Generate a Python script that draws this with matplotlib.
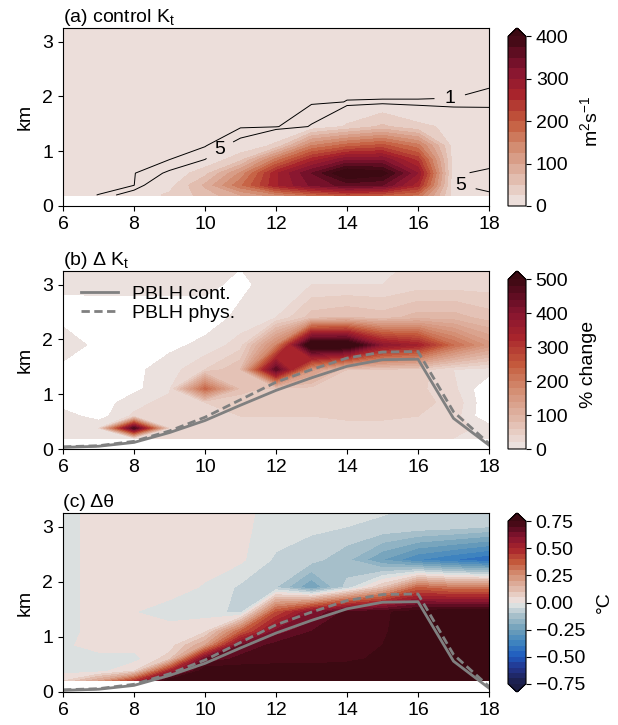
import matplotlib
matplotlib.use('Agg')
import matplotlib.pyplot as plt
import numpy as np
from matplotlib.colors import LinearSegmentedColormap

plt.rcParams['font.family'] = ['Liberation Sans', 'DejaVu Sans']
plt.rcParams['mathtext.fontset'] = 'custom'
plt.rcParams['mathtext.rm'] = 'Liberation Sans'
plt.rcParams['mathtext.it'] = 'Liberation Sans:italic'
plt.rcParams['font.size'] = 14

# Data: hourly columns (local time), model levels (km)
hours = [6, 7, 8, 9, 10, 11, 12, 13, 14, 15, 16, 17, 18]
heights = [0.2, 0.38, 0.6, 0.85, 1.1, 1.45, 1.9, 2.4, 3.0, 3.6]

# (a) control eddy diffusivity, m2/s  (rows = heights, cols = hours)
kt_control = [
    [0.1, 1.05, 9, 30, 60, 100, 140, 180, 210, 200, 170, 10, 6],
    [0.0, 0.3, 0.9, 15, 80, 170, 270, 330, 360, 350, 260, 5.5, 3],
    [0.0, 0.2, 0.8, 6, 40, 130, 270, 350, 435, 415, 300, 6, 3.5],
    [0.0, 0.1, 0.5, 0.95, 5, 40, 160, 260, 320, 320, 240, 10, 8],
    [0.0, 0.0, 0.2, 0.5, 0.7, 8, 30, 150, 190, 210, 160, 12, 12],
    [0.0, 0.0, 0.0, 0.3, 0.4, 0.5, 0.6, 5.5, 28, 55, 30, 20, 17],
    [0.0, 0.0, 0.0, 0.0, 0.1, 0.2, 0.3, 0.5, 1.05, 1.08, 1.08, 1.1, 1.6],
    [0.0, 0.0, 0.0, 0.0, 0.0, 0.0, 0.0, 0.1, 0.3, 0.3, 0.3, 0.4, 0.4],
    [0.0, 0.0, 0.0, 0.0, 0.0, 0.0, 0.0, 0.0, 0.0, 0.0, 0.0, 0.0, 0.0],
    [0.0, 0.0, 0.0, 0.0, 0.0, 0.0, 0.0, 0.0, 0.0, 0.0, 0.0, 0.0, 0.0],
]

# (b) change in Kt, %
kt_change = [
    [10, 12, 20, 25, 30, 30, 30, 30, 30, 25, 25, 20, 10],
    [15, 20, 480, 30, 25, 25, 25, 25, 30, 30, 30, 30, 10],
    [10, -10, 25, 30, 40, 40, 40, 40, 45, 45, 40, 30, -20],
    [-10, -10, 10, 30, 40, 45, 50, 50, 50, 50, 45, 35, -20],
    [-10, -10, -5, 15, 230, 70, 50, 50, 50, 50, 45, 25, -20],
    [-5, -5, -5, 10, 40, 80, 460, 150, 60, 55, 50, 20, 10],
    [10, -5, -5, -5, 5, 30, 180, 560, 560, 380, 340, 220, 150],
    [-5, -10, -10, -10, -10, 5, 20, 70, 80, 70, 90, 90, 70],
    [2, 5, 5, 5, 5, -5, 10, 20, 20, 20, 30, 30, 30],
    [10, 10, 10, 10, 10, 5, 10, 10, 10, 10, 20, 20, 20],
]

# (c) change in potential temperature, degC
theta_change = [
    [0.05, 0.2, 0.45, 0.8, 0.9, 0.9, 0.9, 0.9, 0.9, 0.9, 0.9, 0.9, 0.9],
    [-0.02, -0.02, 0.05, 0.5, 0.8, 0.78, 0.78, 0.78, 0.78, 0.8, 0.9, 0.9, 0.9],
    [-0.02, -0.02, -0.02, 0.08, 0.65, 0.72, 0.73, 0.73, 0.74, 0.76, 0.85, 0.9, 0.85],
    [-0.01, 0.02, 0.02, 0.02, 0.2, 0.65, 0.72, 0.73, 0.74, 0.75, 0.85, 0.9, 0.8],
    [-0.02, 0.02, 0.02, 0.02, 0.04, 0.35, 0.62, 0.7, 0.72, 0.74, 0.8, 0.85, 0.78],
    [-0.02, 0.02, 0.001, -0.02, -0.02, -0.07, 0.4, 0.6, 0.72, 0.74, 0.78, 0.8, 0.8],
    [-0.02, 0.02, 0.02, 0.02, -0.005, -0.06, -0.1, -0.25, -0.08, 0.1, 0.35, 0.3, 0.3],
    [-0.02, 0.02, 0.02, 0.02, 0.02, 0.01, -0.06, -0.08, -0.14, -0.25, -0.35, -0.4, -0.45],
    [-0.02, 0.02, 0.02, 0.02, 0.02, 0.01, -0.02, -0.04, -0.05, -0.06, -0.07, -0.08, -0.1],
    [-0.02, 0.02, 0.02, 0.02, 0.02, 0.01, -0.01, -0.02, -0.02, -0.03, -0.04, -0.05, -0.06],
]

# boundary layer heights, km
pblh_cont = [0.03, 0.05, 0.12, 0.3, 0.52, 0.8, 1.07, 1.3, 1.51, 1.63, 1.64, 0.56, 0.07]
pblh_phys = [0.04, 0.06, 0.14, 0.33, 0.58, 0.9, 1.22, 1.45, 1.66, 1.77, 1.78, 0.68, 0.1]

# balance-like diverging colormap
div_colors = [
    (0.00, '#1b1d45'), (0.10, '#23358f'), (0.17, '#1f5cbf'), (0.25, '#3d83bf'),
    (0.33, '#6b9db9'), (0.42, '#a9c1cb'), (0.48, '#d9dfe0'), (0.50, '#ebe6e4'),
    (0.52, '#ecdcd7'), (0.58, '#e2bcae'), (0.67, '#d48f74'), (0.75, '#c45a3c'),
    (0.83, '#a8242c'), (0.90, '#861530'), (0.96, '#5a0c20'), (1.00, '#3c0912'),
]
cmap_div = LinearSegmentedColormap.from_list('balance_like', div_colors)
cmap_red = LinearSegmentedColormap.from_list(
    'balance_red', [((p - 0.5) * 2, c) for p, c in div_colors if p >= 0.5])

T, Z = np.meshgrid(hours, heights)

fig = plt.figure(figsize=(6.18, 7.25), dpi=100)
W, H = 618.0, 725.0


def add_axes(top, bottom):
    ax = fig.add_axes([63 / W, 1 - bottom / H, 426 / W, (bottom - top) / H])
    cax = fig.add_axes([508 / W, 1 - bottom / H, 18 / W, (bottom - top) / H])
    return ax, cax


def style(ax, title):
    ax.set_xlim(6, 18)
    ax.set_ylim(0, 3.25)
    ax.set_xticks([6, 8, 10, 12, 14, 16, 18])
    ax.set_yticks([0, 1, 2, 3])
    ax.set_ylabel('km', labelpad=6)
    ax.set_title(title, loc='left', fontsize=14, pad=4)


def draw_pblh(ax):
    ax.plot(hours, pblh_cont, color='#808080', lw=2.0, label='PBLH cont.')
    ax.plot(hours, pblh_phys, color='#808080', lw=2.0, linestyle=(0, (3, 1.6)),
            label='PBLH phys.')


# (a)
ax, cax = add_axes(28, 206)
cf = ax.contourf(T, Z, np.array(kt_control), levels=np.arange(0, 425, 25),
                 cmap=cmap_red, extend='max')
cs = ax.contour(T, Z, np.array(kt_control), levels=[1, 5], colors='k', linewidths=0.7)
labels = ax.clabel(cs, fmt='%d', fontsize=14, inline=True, inline_spacing=10,
                   manual=[(16.9, 1.95), (10.5, 0.93), (17.1, 0.4)])
for t in labels:
    t.set_rotation(0)
style(ax, '(a) control K$_\\mathrm{t}$')
cb = fig.colorbar(cf, cax=cax, ticks=[0, 100, 200, 300, 400])
cb.set_label('m$^2$s$^{-1}$', labelpad=8)

# (b)
ax, cax = add_axes(271, 449)
cf = ax.contourf(T, Z, np.array(kt_change), levels=np.arange(0, 520, 20),
                 cmap=cmap_red, extend='max')
draw_pblh(ax)
ax.legend(loc='upper left', frameon=False, fontsize=14, handlelength=1.9,
          handletextpad=0.7, borderaxespad=0, labelspacing=0.1,
          bbox_to_anchor=(0.025, 0.965))
style(ax, '(b) Δ K$_\\mathrm{t}$')
cb = fig.colorbar(cf, cax=cax, ticks=[0, 100, 200, 300, 400, 500])
cb.set_label('% change', labelpad=8)

# (c)
ax, cax = add_axes(513, 692)
cf = ax.contourf(T, Z, np.array(theta_change), levels=np.linspace(-0.75, 0.75, 31),
                 cmap=cmap_div, extend='both')
draw_pblh(ax)
style(ax, '(c) Δθ')
cb = fig.colorbar(cf, cax=cax, ticks=[-0.75, -0.5, -0.25, 0, 0.25, 0.5, 0.75])
cb.ax.set_yticklabels(['−0.75', '−0.50', '−0.25', '0.00', '0.25', '0.50', '0.75'])
cb.set_label('°C', labelpad=8)

plt.savefig('out.png', dpi=100)
